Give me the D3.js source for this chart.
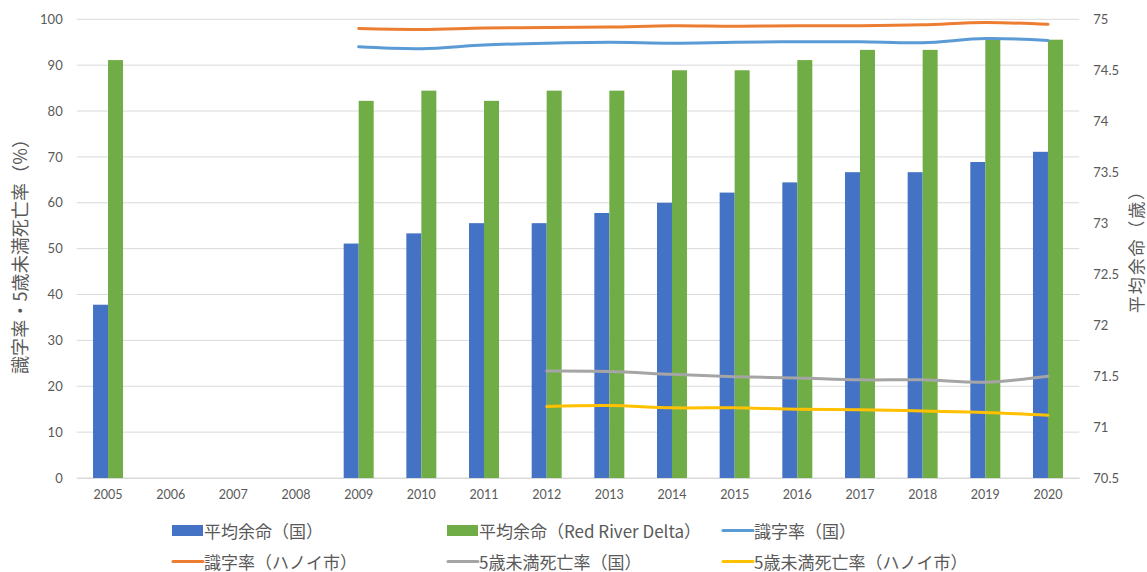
<!DOCTYPE html>
<html>
<head>
<meta charset="utf-8">
<script src="https://cdn.jsdelivr.net/npm/d3@7"></script>
<style>
  html, body { margin: 0; padding: 0; background: #fff; }
  svg { display: block; }
  text { fill: #595959; }
</style>
</head>
<body>
<svg id="chart" width="1147" height="572"></svg>
<script>
// Years on the category axis
const years = ["2005","2006","2007","2008","2009","2010","2011","2012","2013","2014","2015","2016","2017","2018","2019","2020"];

// Life expectancy (years) — right axis, bars
const lifeNational = [72.2, null, null, null, 72.8, 72.9, 73.0, 73.0, 73.1, 73.2, 73.3, 73.4, 73.5, 73.5, 73.6, 73.7];
const lifeRedRiver = [74.6, null, null, null, 74.2, 74.3, 74.2, 74.3, 74.3, 74.5, 74.5, 74.6, 74.7, 74.7, 74.8, 74.8];

// Literacy rate (%) — left axis, lines
const literacyNational = [null, null, null, null, 94.0, 93.6, 94.4, 94.8, 95.0, 94.8, 95.0, 95.1, 95.1, 94.9, 95.8, 95.4];
const literacyHanoi    = [null, null, null, null, 98.0, 97.8, 98.1, 98.2, 98.3, 98.6, 98.5, 98.6, 98.6, 98.8, 99.3, 98.9];

// Under-5 mortality rate — left axis, lines
const u5National = [null, null, null, null, null, null, null, 23.3, 23.2, 22.6, 22.1, 21.8, 21.4, 21.4, 20.9, 22.2];
const u5Hanoi    = [null, null, null, null, null, null, null, 15.6, 15.8, 15.3, 15.3, 15.0, 14.9, 14.6, 14.3, 13.7];

// Axis ticks
const leftTicks = [0, 10, 20, 30, 40, 50, 60, 70, 80, 90, 100];
const rightTicks = [70.5, 71, 71.5, 72, 72.5, 73, 73.5, 74, 74.5, 75];

// Legend labels
const barLabels = ["平均余命（国）", "平均余命（Red River Delta）"];
const lineLabels = ["識字率（国）", "識字率（ハノイ市）", "5歳未満死亡率（国）", "5歳未満死亡率（ハノイ市）"];

const barColors = ["#4472C4", "#70AD47"];
const lineColors = ["#5B9BD5", "#ED7D31", "#A5A5A5", "#FFC000"];

const svg = d3.select("#chart");
const plot = { left: 76.7, right: 1079.3, top: 19.3, bottom: 478 };

const x = d3.scaleBand().domain(years).range([plot.left, plot.right]).paddingInner(0).paddingOuter(0);
const x1 = d3.scaleBand().domain([0, 1]).range([0, x.bandwidth()]).paddingInner(0).paddingOuter(1.09);
const yL = d3.scaleLinear().domain([0, 100]).range([plot.bottom, plot.top]);
const yR = d3.scaleLinear().domain([70.5, 75]).range([plot.bottom, plot.top]);

const numFont = "Lato, 'Noto Sans', sans-serif";
const jpFont = "'Noto Sans CJK JP', sans-serif";
const jpColor = "#6b6b6b";

// Horizontal gridlines from the left axis
svg.append("g")
  .selectAll("line")
  .data(leftTicks)
  .join("line")
  .attr("x1", plot.left).attr("x2", plot.right)
  .attr("y1", d => yL(d)).attr("y2", d => yL(d))
  .attr("stroke", "#D9D9D9").attr("stroke-width", 1);

// Left axis tick labels
const leftAxis = d3.axisLeft(yL).tickValues(leftTicks).tickSize(0).tickPadding(14);
const gL = svg.append("g").attr("transform", `translate(${plot.left},0)`).call(leftAxis);
gL.select(".domain").remove();
gL.selectAll("text").style("font-family", numFont).style("font-size", "13px").attr("fill", "#595959");

// Right axis tick labels
const rightAxis = d3.axisRight(yR).tickValues(rightTicks).tickSize(0).tickPadding(14).tickFormat(d3.format(""));
const gR = svg.append("g").attr("transform", `translate(${plot.right},0)`).call(rightAxis);
gR.select(".domain").remove();
gR.selectAll("text").style("font-family", numFont).style("font-size", "13px").attr("fill", "#595959");

// Category axis
const bottomAxis = d3.axisBottom(x).tickSize(0).tickPadding(12);
const gB = svg.append("g").attr("transform", `translate(0,${plot.bottom})`).call(bottomAxis);
gB.select(".domain").attr("stroke", "#D9D9D9");
gB.selectAll("text").style("font-family", numFont).style("font-size", "12.5px").attr("fill", "#595959");

// Bars
const barSeries = [lifeNational, lifeRedRiver];
barSeries.forEach((vals, si) => {
  svg.append("g")
    .selectAll("rect")
    .data(years.map((y, i) => ({ year: y, v: vals[i] })).filter(d => d.v != null))
    .join("rect")
    .attr("x", d => x(d.year) + x1(si))
    .attr("width", x1.bandwidth())
    .attr("y", d => yR(d.v))
    .attr("height", d => yR(70.5) - yR(d.v))
    .attr("fill", barColors[si]);
});

// Lines
const lineSeries = [literacyNational, literacyHanoi, u5National, u5Hanoi];
const line = d3.line()
  .x(d => x(d.year) + x.bandwidth() / 2)
  .y(d => yL(d.v))
  .curve(d3.curveCatmullRom.alpha(0));
lineSeries.forEach((vals, si) => {
  const pts = years.map((y, i) => ({ year: y, v: vals[i] })).filter(d => d.v != null);
  svg.append("path")
    .datum(pts)
    .attr("d", line)
    .attr("fill", "none")
    .attr("stroke", lineColors[si])
    .attr("stroke-width", 3)
    .attr("stroke-linecap", "round")
    .attr("stroke-linejoin", "round");
});

// Axis titles
svg.append("text")
  .attr("transform", `translate(19,252) rotate(-90)`)
  .attr("text-anchor", "middle")
  .attr("dominant-baseline", "central")
  .attr("textLength", 244)
  .attr("lengthAdjust", "spacing")
  .attr("fill", jpColor)
  .style("font-family", jpFont).style("font-size", "18px")
  .text("識字率・5歳未満死亡率（%）");

svg.append("text")
  .attr("transform", `translate(1135,248) rotate(-90)`)
  .attr("text-anchor", "middle")
  .attr("dominant-baseline", "central")
  .attr("textLength", 130)
  .attr("lengthAdjust", "spacing")
  .attr("fill", jpColor)
  .style("font-family", jpFont).style("font-size", "17px")
  .text("平均余命（歳）");

// Legend
const legendItems = [
  { label: barLabels[0], color: barColors[0], type: "rect" },
  { label: barLabels[1], color: barColors[1], type: "rect" },
  { label: lineLabels[0], color: lineColors[0], type: "line" },
  { label: lineLabels[1], color: lineColors[1], type: "line" },
  { label: lineLabels[2], color: lineColors[2], type: "line" },
  { label: lineLabels[3], color: lineColors[3], type: "line" }
];
const colX = [172, 447, 722];
const rowY = [530, 561];
const lg = svg.append("g");
legendItems.forEach((it, i) => {
  const gx = colX[i % 3], gy = rowY[Math.floor(i / 3)];
  const g = lg.append("g").attr("transform", `translate(${gx},${gy})`);
  if (it.type === "rect") {
    g.append("rect").attr("x", 0).attr("y", -5).attr("width", 31).attr("height", 11).attr("fill", it.color);
  } else {
    g.append("line").attr("x1", 1).attr("x2", 31).attr("y1", 0.5).attr("y2", 0.5)
      .attr("stroke", it.color).attr("stroke-width", 3).attr("stroke-linecap", "round");
  }
  g.append("text").attr("x", 32).attr("y", 0).attr("dominant-baseline", "central")
    .attr("fill", jpColor)
    .style("font-family", jpFont).style("font-size", "17px")
    .text(it.label);
});
</script>
</body>
</html>
